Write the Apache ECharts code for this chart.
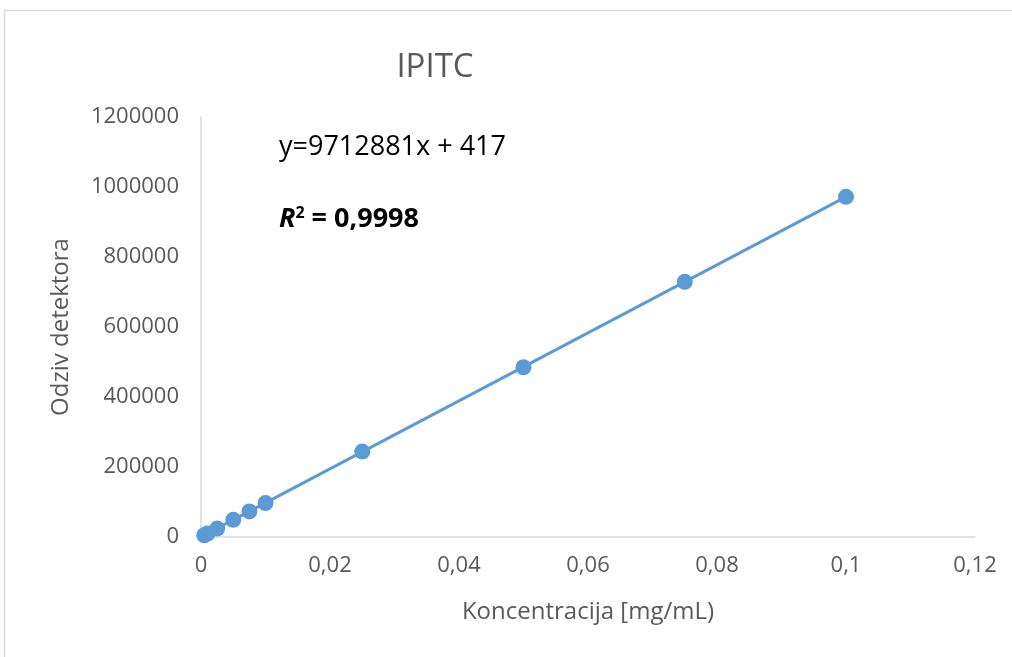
<!DOCTYPE html>
<html><head><meta charset="utf-8">
<script src="https://cdn.jsdelivr.net/npm/echarts@6/dist/echarts.min.js"></script>
<style>html,body{margin:0;padding:0;background:#fff}#c{width:1012px;height:657px}</style>
</head><body><div id="c"></div>
<script>
const concentration = [0.0005, 0.001, 0.0025, 0.005, 0.0075, 0.01, 0.025, 0.05, 0.075, 0.1];
const response = [5000, 10000, 24000, 49000, 73000, 97000, 244000, 485000, 729000, 972000];
const slope = 9712881;
const intercept = 417;
const xTicks = [0, 0.02, 0.04, 0.06, 0.08, 0.1, 0.12];
const yTicks = [0, 200000, 400000, 600000, 800000, 1000000, 1200000];

const xMinData = Math.min(...concentration), xMaxData = Math.max(...concentration);
const trend = [[xMinData, slope*xMinData+intercept],[xMaxData, slope*xMaxData+intercept]];
const F = '"Open Sans", "Noto Sans", sans-serif';
const chart = echarts.init(document.getElementById('c'));
chart.setOption({
  animation:false,
  title:{text:'IPITC', left:430, top:46, textAlign:'center', textStyle:{fontFamily:F, fontSize:33, fontWeight:'normal', color:'#595959'}},
  grid:{left:201, right:37, top:117, bottom:120},
  xAxis:{type:'value', min:xTicks[0], max:xTicks[xTicks.length-1], interval:0.02,
    name:'Koncentracija [mg/mL)', nameLocation:'middle', nameGap:63,
    nameTextStyle:{fontFamily:F, fontSize:24, color:'#595959'},
    axisLine:{lineStyle:{color:'#D9D9D9', width:1.5}}, axisTick:{show:false}, splitLine:{show:false},
    axisLabel:{fontFamily:F, fontSize:22, color:'#595959', margin:18, formatter:v=>String(+v.toFixed(2)).replace('.',',')}},
  yAxis:{type:'value', min:yTicks[0], max:yTicks[yTicks.length-1], interval:200000,
    name:'Odziv detektora', nameLocation:'middle', nameGap:128, nameRotate:90,
    nameTextStyle:{fontFamily:F, fontSize:24, color:'#595959'},
    axisLine:{show:true, lineStyle:{color:'#D9D9D9', width:1.5}}, axisTick:{show:false}, splitLine:{show:false},
    axisLabel:{fontFamily:F, fontSize:22, color:'#595959', margin:22, formatter:v=>String(v)}},
  graphic:[
    {type:'rect', shape:{x:4.5, y:10.5, width:1100, height:800}, style:{fill:'none', stroke:'#D9D9D9', lineWidth:1.5}, silent:true, z:-1},
    {type:'text', left:279, top:134, style:{text:'y=9712881x + 417', fontFamily:F, fontSize:27, fill:'#000'}},
    {type:'text', left:279, top:205, style:{text:'{i|R}{s|2}{b| = 0,9998}', rich:{
      i:{fontFamily:F, fontSize:27, fontWeight:'bold', fontStyle:'italic', fill:'#000'},
      s:{fontFamily:F, fontSize:16, fontWeight:'bold', fill:'#000', verticalAlign:'top', padding:[0,0,12,0]},
      b:{fontFamily:F, fontSize:27, fontWeight:'bold', fill:'#000'}}}}
  ],
  series:[
    {type:'line', data:trend, symbol:'none', lineStyle:{color:'#5B9BD5', width:3}, z:2, silent:true},
    {type:'scatter', data:concentration.map((x,i)=>[x,response[i]]), symbol:'circle', symbolSize:16,
      itemStyle:{color:'#5B9BD5', opacity:1}, z:3}
  ]
});
</script></body></html>
